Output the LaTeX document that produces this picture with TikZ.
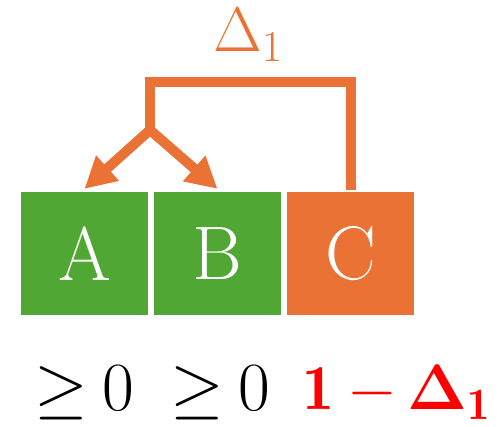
\RequirePackage{fix-cm}
\documentclass[tikz,border=0pt]{standalone}
\usepackage{amsmath}
\usepackage{fontspec}
\usetikzlibrary{arrows.meta}
\definecolor{boxgreen}{RGB}{80,167,51}
\definecolor{boxorange}{RGB}{234,114,52}
\tikzset{
  cell/.style={minimum width=127pt, minimum height=123pt, inner sep=0pt, text=white, font=\fontsize{76}{80}\selectfont},
  conn/.style={draw=boxorange, line width=10pt, line join=miter},
  bigtip/.tip={Triangle[length=31pt,width=32pt]},
  lbl/.style={anchor=base, font=\fontsize{69}{75}\selectfont},
}
\begin{document}
\begin{tikzpicture}[x=1pt,y=-1pt]
\useasboundingbox (0,0) rectangle (501,427);
\node[cell,fill=boxgreen] (a) at (84.5,253.5) {A};
\node[cell,fill=boxgreen] (b) at (217.5,253.5) {B};
\node[cell,fill=boxorange] (c) at (350.5,253.5) {C};
\coordinate (tl) at (150,82);
\coordinate (j) at (150,130);
\draw[conn] ([yshift=2pt]c.north) -- (c.north |- tl) -- (tl) -- (j);
\draw[conn, bigtip-bigtip] ([yshift=3pt]a.north) -- (j) -- ([yshift=3pt]b.north);
\node[text=boxorange, font=\fontsize{63}{70}\selectfont] (d) at (248,35) {$\Delta_1$};
\node[lbl] (ga) at (84,411) {$\geq$\hspace{14pt}$0$};
\node[lbl] (gb) at (220.5,411) {$\geq$\hspace{14pt}$0$};
\node[lbl, anchor=base west, inner sep=0pt, text=red, font=\fontsize{64}{70}\selectfont] (r) at (302,410) {$\mathbf{1}\hspace{13pt}\mathord{-}\hspace{11pt}\boldsymbol{\Delta}_{\mathbf{1}}$};
\end{tikzpicture}
\end{document}
